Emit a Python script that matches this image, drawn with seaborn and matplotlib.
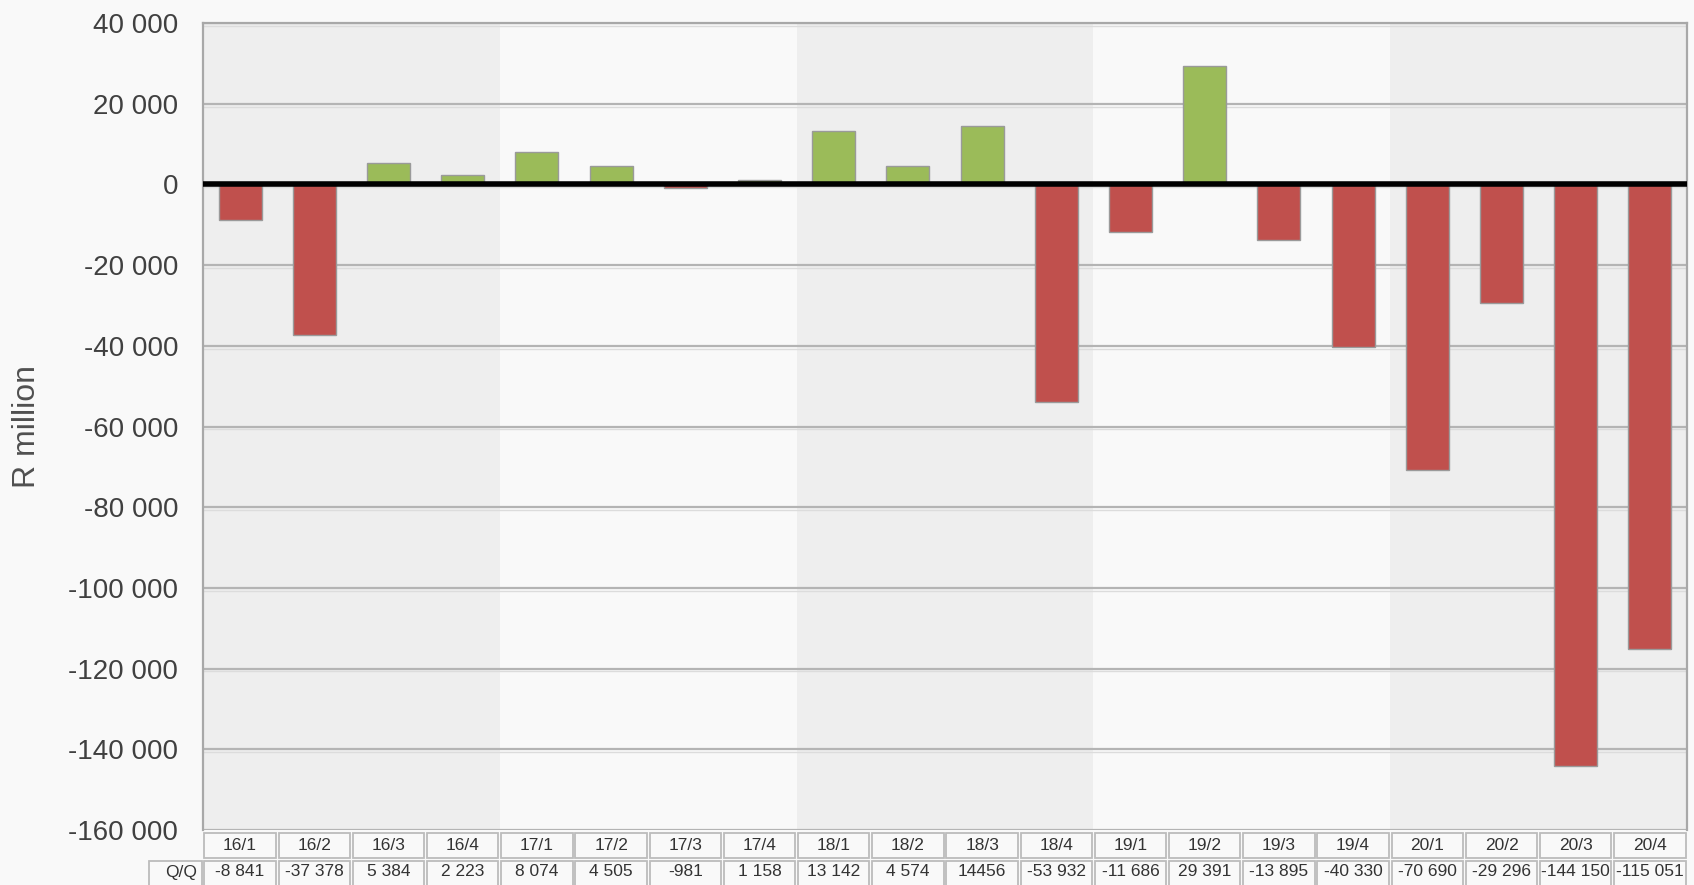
import matplotlib
matplotlib.use('Agg')
import matplotlib.pyplot as plt
import seaborn as sns
from matplotlib.patches import Rectangle

quarters = ['16/1', '16/2', '16/3', '16/4', '17/1', '17/2', '17/3', '17/4',
            '18/1', '18/2', '18/3', '18/4', '19/1', '19/2', '19/3', '19/4',
            '20/1', '20/2', '20/3', '20/4']
values = [-8841, -37378, 5384, 2223, 8074, 4505, -981, 1158,
          13142, 4574, 14456, -53932, -11686, 29391, -13895, -40330,
          -70690, -29296, -144150, -115051]
value_labels = ['-8 841', '-37 378', '5 384', '2 223', '8 074', '4 505', '-981', '1 158',
                '13 142', '4 574', '14456', '-53 932', '-11 686', '29 391', '-13 895', '-40 330',
                '-70 690', '-29 296', '-144 150', '-115 051']
row_label = 'Q/Q'
y_ticks = list(range(-160000, 40001, 20000))

sns.set_style('white')
plt.rcParams['font.family'] = ['Liberation Sans', 'DejaVu Sans']

W, H = 1694, 885
fig = plt.figure(figsize=(W / 100, H / 100), dpi=100, facecolor='#f9f9f9')

# main chart area (pixel coords of the reference)
left, right, top, bottom = 203, 1687, 23, 830
ax = fig.add_axes([left / W, 1 - bottom / H, (right - left) / W, (bottom - top) / H])
ax.set_facecolor('#f9f9f9')

# alternating year bands
for i in range(5):
    col = '#eeeeee' if i % 2 == 0 else '#f9f9f9'
    ax.axvspan(i * 4 - 0.5, i * 4 + 3.5, color=col, lw=0, zorder=0)

for t in y_ticks:
    ax.axhline(t, color='#b4b4b4', lw=1.6, zorder=1)
    ax.axhline(t - 700, color='#dcdcdc', lw=1.0, zorder=1)

colors = ['#9bbb59' if v >= 0 else '#c0504d' for v in values]
sns.barplot(x=quarters, y=values, hue=quarters, palette=colors, legend=False,
            width=0.58, edgecolor='#9a9a9a', linewidth=1, saturation=1, ax=ax, zorder=2)

ax.axhline(0, color='black', lw=4, zorder=4)

ax.set_xlim(-0.5, 19.5)
ax.set_ylim(-160000, 40000)
ax.set_yticks(y_ticks)
ax.set_yticklabels([f'{t:,}'.replace(',', ' ') for t in y_ticks], fontsize=20, color='#404040')
ax.tick_params(axis='y', length=0, pad=18)
ax.set_xticks([])
ax.set_xlabel('')
ax.set_ylabel('')
for s in ['left', 'top', 'right']:
    ax.spines[s].set_color('#a8a8a8')
    ax.spines[s].set_linewidth(1.6)
ax.spines['bottom'].set_visible(False)

fig.text(27 / W, 1 - 427 / H, 'R million', rotation=90, ha='center', va='center',
         fontsize=23, color='#505050')

# data table below the chart, y in pixels from the figure bottom
tab_left = 148
extra = (left - tab_left) / ((right - left) / 20)
tx = fig.add_axes([tab_left / W, 0, (right - tab_left) / W, (H - bottom) / H])
tx.set_xlim(-0.5 - extra, 19.5)
tx.set_ylim(0, H - bottom)
tx.axis('off')

cell_font = dict(fontsize=12.5, color='#333333', ha='center', va='center')
cell_style = dict(facecolor='#f9f9f9', edgecolor='#bcbcbc', lw=1.3, clip_on=False)
gap = 0.02
head_y0, head_y1 = H - 858, H - 833
val_y0, val_y1 = -4, H - 861
for i, (q, lab) in enumerate(zip(quarters, value_labels)):
    tx.add_patch(Rectangle((i - 0.5 + gap, head_y0), 1 - 2 * gap, head_y1 - head_y0, **cell_style))
    tx.add_patch(Rectangle((i - 0.5 + gap, val_y0), 1 - 2 * gap, val_y1 - val_y0, **cell_style))
    tx.text(i, (head_y0 + head_y1) / 2, q, **cell_font)
    tx.text(i, (val_y1 + 0) / 2 + 1, lab, **cell_font)
tx.add_patch(Rectangle((-0.5 - extra + gap, val_y0), extra - 2 * gap, val_y1 - val_y0, **cell_style))
tx.text(-0.5 - 0.08, (val_y1 + 0) / 2 + 1, row_label, **{**cell_font, 'ha': 'right'})

fig.savefig('out.png', dpi=100, facecolor=fig.get_facecolor())
